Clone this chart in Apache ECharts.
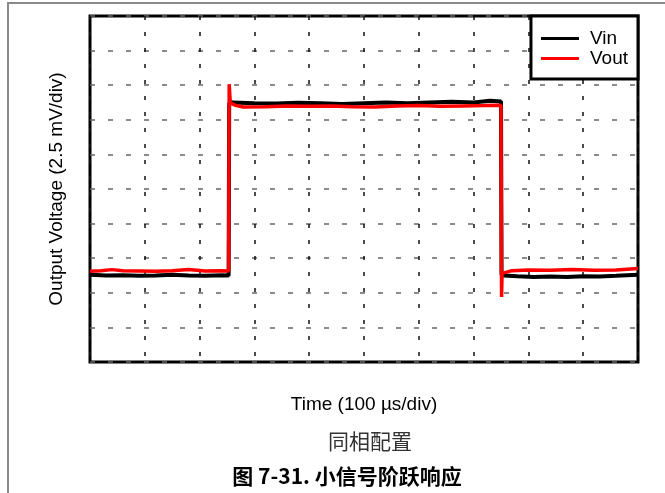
<!DOCTYPE html>
<html>
<head>
<meta charset="utf-8">
<script src="https://cdn.jsdelivr.net/npm/echarts@6/dist/echarts.min.js"></script>
<style>
  html, body { margin: 0; padding: 0; background: #fff; }
  #main { width: 665px; height: 493px; }
</style>
</head>
<body>
<div id="main"></div>
<script>
// 时间单位: div (100 µs/div), 电压单位: div (2.5 mV/div)
var vinTime = [0, 0.3, 0.6, 0.9, 1.2, 1.5, 1.8, 2.1, 2.4, 2.53, 2.54, 2.6, 3.0, 3.4, 3.8, 4.2, 4.6, 5.0, 5.4, 5.8, 6.2, 6.6, 7.0, 7.3, 7.5, 7.51, 7.55, 7.8, 8.1, 8.4, 8.7, 9.0, 9.3, 9.6, 10];
var vinVolt = [2.52, 2.5, 2.51, 2.49, 2.5, 2.52, 2.5, 2.49, 2.51, 2.5, 7.48, 7.5, 7.48, 7.47, 7.49, 7.48, 7.46, 7.48, 7.5, 7.48, 7.5, 7.52, 7.5, 7.55, 7.53, 2.52, 2.5, 2.48, 2.46, 2.47, 2.46, 2.48, 2.47, 2.49, 2.52];

var voutTime = [0, 0.2, 0.4, 0.6, 0.9, 1.2, 1.5, 1.8, 2.1, 2.4, 2.53, 2.54, 2.56, 2.65, 2.8, 3.2, 3.6, 4.0, 4.4, 4.8, 5.2, 5.6, 6.0, 6.4, 6.8, 7.2, 7.5, 7.51, 7.52, 7.54, 7.7, 8.0, 8.4, 8.8, 9.2, 9.6, 10];
var voutVolt = [2.62, 2.64, 2.67, 2.64, 2.63, 2.62, 2.64, 2.67, 2.63, 2.64, 2.63, 8.03, 7.49, 7.42, 7.37, 7.38, 7.4, 7.39, 7.4, 7.38, 7.37, 7.4, 7.41, 7.39, 7.4, 7.41, 7.42, 1.88, 2.56, 2.6, 2.64, 2.66, 2.65, 2.67, 2.65, 2.66, 2.7];

var seriesNames = ["Vin", "Vout"];
var xAxisName = "Time (100 µs/div)";
var yAxisName = "Output Voltage (2.5 mV/div)";
var subCaption = "同相配置";
var figCaption = "图 7-31. 小信号阶跃响应";

function pairs(xs, ys) {
  return xs.map(function (x, i) { return [x, ys[i]]; });
}

var myChart = echarts.init(document.getElementById("main"));
myChart.setOption({
  animation: false,
  backgroundColor: "#fff",
  textStyle: { fontFamily: "Liberation Sans, Arial, sans-serif" },
  title: [
    {
      text: subCaption,
      left: 365,
      top: 426,
      textAlign: "center",
      textStyle: {
        fontFamily: "Noto Sans CJK SC",
        fontSize: 21,
        fontWeight: "normal",
        color: "#333"
      }
    },
    {
      text: figCaption,
      left: 342,
      top: 461,
      textAlign: "center",
      textStyle: {
        fontFamily: "Noto Sans CJK SC",
        fontSize: 21,
        fontWeight: "bold",
        color: "#000"
      }
    }
  ],
  graphic: [
    {
      type: "polyline",
      shape: { points: [[8, 493], [8, 3], [665, 3]] },
      style: { stroke: "#8a8a8a", lineWidth: 2, fill: null },
      silent: true
    }
  ],
  legend: {
    orient: "vertical",
    right: 27,
    top: 16,
    padding: [13, 10, 11, 10],
    itemGap: 1,
    itemWidth: 38,
    itemHeight: 3,
    icon: "rect",
    backgroundColor: "#fff",
    borderColor: "#000",
    borderWidth: 3,
    borderRadius: 0,
    z: 10,
    textStyle: {
      fontSize: 19,
      color: "#000",
      padding: [0, 0, 0, 6]
    },
    data: seriesNames
  },
  grid: {
    left: 90,
    top: 16,
    right: 27,
    bottom: 131,
    show: true,
    borderColor: "#000",
    borderWidth: 3,
    containLabel: false
  },
  xAxis: {
    type: "value",
    min: 0,
    max: 10,
    interval: 1,
    name: xAxisName,
    nameLocation: "middle",
    nameGap: 33,
    nameTextStyle: { fontSize: 19, color: "#000" },
    axisLine: { show: false },
    axisTick: { show: false },
    axisLabel: { show: false },
    splitLine: {
      show: true,
      lineStyle: { color: "#111", width: 1.5, type: [4, 12] }
    }
  },
  yAxis: {
    type: "value",
    min: 0,
    max: 10,
    interval: 1,
    name: yAxisName,
    nameLocation: "middle",
    nameGap: 24,
    nameRotate: 90,
    nameTextStyle: { fontSize: 19, color: "#000" },
    axisLine: { show: false },
    axisTick: { show: false },
    axisLabel: { show: false },
    splitLine: {
      show: true,
      lineStyle: { color: "#666", width: 1.5, type: [5, 13] }
    }
  },
  series: [
    {
      name: seriesNames[0],
      type: "line",
      symbol: "none",
      color: "#000",
      lineStyle: { color: "#000", width: 4 },
      data: pairs(vinTime, vinVolt)
    },
    {
      name: seriesNames[1],
      type: "line",
      symbol: "none",
      color: "#f00",
      lineStyle: { color: "#f00", width: 3.5 },
      data: pairs(voutTime, voutVolt)
    }
  ]
});
</script>
</body>
</html>
